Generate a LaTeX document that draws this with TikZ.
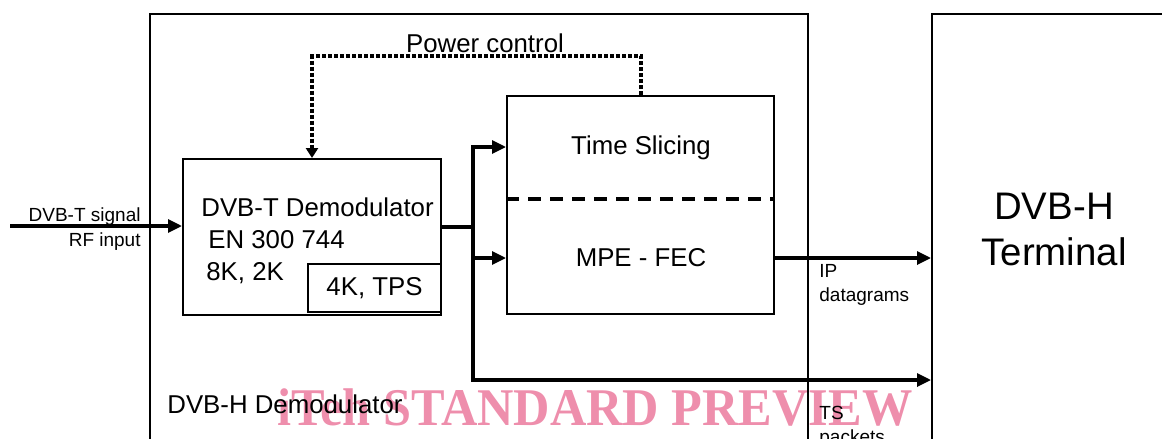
\documentclass[tikz,border=0pt]{standalone}
\usepackage{fontspec}
\setmainfont{Liberation Sans}
\newfontfamily\wmfont{Liberation Serif}
\usetikzlibrary{arrows.meta}
\definecolor{wmpink}{RGB}{238,142,172}
\begin{document}
\begin{tikzpicture}[x=0.5pt,y=-0.5pt,
  box/.style={draw, line width=1pt, inner sep=0pt},
  lbl/.style={inner sep=0pt, font=\fontsize{12.9}{16}\selectfont},
  small/.style={inner sep=0pt, font=\fontsize{9.5}{12}\selectfont},
  arr/.style={line width=1.6pt, -{Triangle[length=7pt,width=6.5pt]}},
  line/.style={line width=1.6pt},
  pwr/.style={line width=2pt, dash pattern=on 2pt off 1pt, -{Triangle[length=5pt,width=6pt]}},
  divider/.style={line width=2pt, dash pattern=on 6.5pt off 4.5pt}]
\useasboundingbox (0,0) rectangle (1162,439);
\clip (0,0) rectangle (1162,439);
% outer boxes
\node[box, minimum width=329pt, minimum height=236pt] (dvbh) at (479,250) {};
\node[box, minimum width=134pt, minimum height=236pt] (term) at (1066,250) {};
\node[lbl, anchor=west] (dvbhlbl) at (167,404) {DVB-H Demodulator};
\node[align=center, inner sep=0pt, font=\fontsize{19.2}{23}\selectfont] (termlbl) at (1054,229) {DVB-H\\ Terminal};
% DVB-T demodulator
\node[box, minimum width=129pt, minimum height=78pt] (demod) at (312,237) {};
\node[box, minimum width=66.5pt, minimum height=24pt] (tps) at (374.5,288) {};
\node[lbl, anchor=base west] (demodlbl) at (201,216) {DVB-T Demodulator};
\node[lbl, anchor=base west] (enlbl) at (208,248) {EN 300 744};
\node[lbl, anchor=base west] (modes) at (206,280) {8K, 2K};
\node[lbl] (tpslbl) at (tps) {4K, TPS};
% time slicing / MPE-FEC
\node[box, minimum width=133.5pt, minimum height=109pt] (ts) at (640.5,205) {};
\node[lbl] (slicing) at (641,148) {Time Slicing};
\node[lbl] (mpefec) at (641,258) {MPE - FEC};
\draw[divider] (ts.west |- 0,199) -- (ts.east |- 0,199);
% input
\coordinate (rfin) at (10,226);
\draw[arr] (rfin) -- (rfin -| demod.west);
\node[small, anchor=base east] (siglbl) at (141,221) {DVB-T signal};
\node[small, anchor=base east] (rflbl) at (141,246) {RF input};
% split to time slicing, MPE-FEC and TS output
\coordinate (split) at (473,227);
\coordinate (tsout) at (473,380);
\draw[line] (split -| demod.east) -- (split);
\draw[arr] (split) |- ([yshift=29pt]ts.west);
\draw[arr] (split) |- ([yshift=-26.5pt]ts.west);
\draw[arr] (split) -- (tsout) -- (tsout -| term.west);
\coordinate (ipout) at ([yshift=-26.5pt]ts.east);
\draw[arr] (ipout) -- (ipout -| term.west);
\node[small, anchor=north west, align=left] (iplbl) at (819,264) {IP\\datagrams};
\node[small, anchor=north west, align=left] (tslbl) at (819,406) {TS\\packets};
% power control
\draw[pwr] (ts.north) |- (312,56) -| (demod.north);
\node[lbl] (pwrlbl) at (485,43) {Power control};
% watermark
\node[inner sep=0pt, text=wmpink, blend mode=multiply, font=\wmfont\bfseries\fontsize{26.5}{28}\selectfont, anchor=base] (wm) at (595,425) {\scalebox{0.95}[1]{iTeh STANDARD PREVIEW}};
\end{tikzpicture}
\end{document}
